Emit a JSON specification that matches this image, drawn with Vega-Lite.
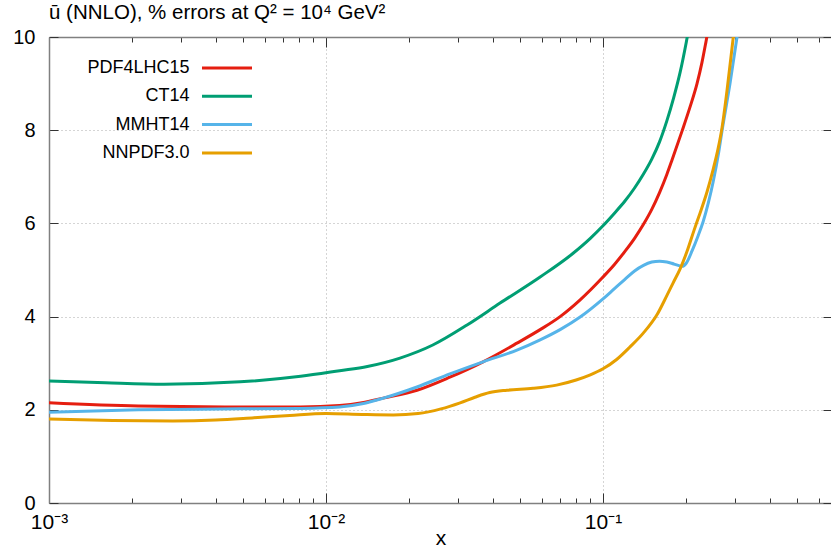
{
  "$schema": "https://vega.github.io/schema/vega-lite/v6.json",
  "autosize": "none",
  "padding": {"left": 49, "top": 37, "right": 0, "bottom": 46},
  "width": 783,
  "height": 466,
  "background": "white",
  "config": {"view": {"stroke": null}, "font": "Liberation Sans"},
  "title": {
    "text": "ū (NNLO), % errors at Q² = 10⁴ GeV²",
    "anchor": "start",
    "frame": "group",
    "font": "Liberation Sans",
    "fontSize": 20.5,
    "fontWeight": "normal",
    "baseline": "alphabetic",
    "offset": -12,
    "color": "black"
  },
  "data": {
    "values": [
      {"series": "PDF4LHC15", "x": 0.001, "y": 2.15},
      {"series": "PDF4LHC15", "x": 0.0021, "y": 2.08},
      {"series": "PDF4LHC15", "x": 0.0049, "y": 2.06},
      {"series": "PDF4LHC15", "x": 0.0081, "y": 2.06},
      {"series": "PDF4LHC15", "x": 0.0112, "y": 2.09},
      {"series": "PDF4LHC15", "x": 0.0135, "y": 2.15},
      {"series": "PDF4LHC15", "x": 0.0161, "y": 2.25},
      {"series": "PDF4LHC15", "x": 0.0213, "y": 2.42},
      {"series": "PDF4LHC15", "x": 0.028, "y": 2.70},
      {"series": "PDF4LHC15", "x": 0.0369, "y": 3.03},
      {"series": "PDF4LHC15", "x": 0.0489, "y": 3.43},
      {"series": "PDF4LHC15", "x": 0.0593, "y": 3.72},
      {"series": "PDF4LHC15", "x": 0.07, "y": 4.0},
      {"series": "PDF4LHC15", "x": 0.0827, "y": 4.36},
      {"series": "PDF4LHC15", "x": 0.1, "y": 4.85},
      {"series": "PDF4LHC15", "x": 0.11, "y": 5.12},
      {"series": "PDF4LHC15", "x": 0.12, "y": 5.40},
      {"series": "PDF4LHC15", "x": 0.13, "y": 5.68},
      {"series": "PDF4LHC15", "x": 0.14, "y": 5.98},
      {"series": "PDF4LHC15", "x": 0.15, "y": 6.30},
      {"series": "PDF4LHC15", "x": 0.16, "y": 6.66},
      {"series": "PDF4LHC15", "x": 0.17, "y": 7.05},
      {"series": "PDF4LHC15", "x": 0.1775, "y": 7.36},
      {"series": "PDF4LHC15", "x": 0.1929, "y": 7.98},
      {"series": "PDF4LHC15", "x": 0.2062, "y": 8.5},
      {"series": "PDF4LHC15", "x": 0.2185, "y": 9.0},
      {"series": "PDF4LHC15", "x": 0.2276, "y": 9.45},
      {"series": "PDF4LHC15", "x": 0.2354, "y": 9.9},
      {"series": "PDF4LHC15", "x": 0.2455, "y": 10.5},
      {"series": "CT14", "x": 0.001, "y": 2.62},
      {"series": "CT14", "x": 0.0016, "y": 2.58},
      {"series": "CT14", "x": 0.0026, "y": 2.55},
      {"series": "CT14", "x": 0.0049, "y": 2.60},
      {"series": "CT14", "x": 0.0081, "y": 2.72},
      {"series": "CT14", "x": 0.0112, "y": 2.84},
      {"series": "CT14", "x": 0.0141, "y": 2.93},
      {"series": "CT14", "x": 0.0185, "y": 3.11},
      {"series": "CT14", "x": 0.0243, "y": 3.39},
      {"series": "CT14", "x": 0.0323, "y": 3.82},
      {"series": "CT14", "x": 0.0425, "y": 4.29},
      {"series": "CT14", "x": 0.0593, "y": 4.85},
      {"series": "CT14", "x": 0.078, "y": 5.36},
      {"series": "CT14", "x": 0.09, "y": 5.68},
      {"series": "CT14", "x": 0.1, "y": 5.95},
      {"series": "CT14", "x": 0.11, "y": 6.22},
      {"series": "CT14", "x": 0.12, "y": 6.48},
      {"series": "CT14", "x": 0.13, "y": 6.76},
      {"series": "CT14", "x": 0.14, "y": 7.06},
      {"series": "CT14", "x": 0.15, "y": 7.38},
      {"series": "CT14", "x": 0.16, "y": 7.75},
      {"series": "CT14", "x": 0.17, "y": 8.2},
      {"series": "CT14", "x": 0.18, "y": 8.7},
      {"series": "CT14", "x": 0.19, "y": 9.25},
      {"series": "CT14", "x": 0.2, "y": 9.9},
      {"series": "CT14", "x": 0.21, "y": 10.6},
      {"series": "MMHT14", "x": 0.001, "y": 1.95},
      {"series": "MMHT14", "x": 0.0021, "y": 2.0},
      {"series": "MMHT14", "x": 0.0049, "y": 2.02},
      {"series": "MMHT14", "x": 0.0081, "y": 2.03},
      {"series": "MMHT14", "x": 0.0112, "y": 2.06},
      {"series": "MMHT14", "x": 0.0135, "y": 2.13},
      {"series": "MMHT14", "x": 0.0161, "y": 2.25},
      {"series": "MMHT14", "x": 0.0213, "y": 2.49},
      {"series": "MMHT14", "x": 0.028, "y": 2.77},
      {"series": "MMHT14", "x": 0.0369, "y": 3.03},
      {"series": "MMHT14", "x": 0.0489, "y": 3.28},
      {"series": "MMHT14", "x": 0.0593, "y": 3.50},
      {"series": "MMHT14", "x": 0.07, "y": 3.72},
      {"series": "MMHT14", "x": 0.0827, "y": 3.99},
      {"series": "MMHT14", "x": 0.1, "y": 4.38},
      {"series": "MMHT14", "x": 0.11, "y": 4.60},
      {"series": "MMHT14", "x": 0.12, "y": 4.80},
      {"series": "MMHT14", "x": 0.13, "y": 4.98},
      {"series": "MMHT14", "x": 0.14, "y": 5.10},
      {"series": "MMHT14", "x": 0.15, "y": 5.17},
      {"series": "MMHT14", "x": 0.16, "y": 5.19},
      {"series": "MMHT14", "x": 0.17, "y": 5.17},
      {"series": "MMHT14", "x": 0.18, "y": 5.13},
      {"series": "MMHT14", "x": 0.193, "y": 5.08},
      {"series": "MMHT14", "x": 0.2, "y": 5.15},
      {"series": "MMHT14", "x": 0.21, "y": 5.42},
      {"series": "MMHT14", "x": 0.22, "y": 5.72},
      {"series": "MMHT14", "x": 0.23, "y": 6.04},
      {"series": "MMHT14", "x": 0.24, "y": 6.44},
      {"series": "MMHT14", "x": 0.25, "y": 6.9},
      {"series": "MMHT14", "x": 0.262, "y": 7.55},
      {"series": "MMHT14", "x": 0.2689, "y": 7.98},
      {"series": "MMHT14", "x": 0.2874, "y": 9.0},
      {"series": "MMHT14", "x": 0.3047, "y": 10.0},
      {"series": "MMHT14", "x": 0.318, "y": 10.8},
      {"series": "NNPDF3.0", "x": 0.001, "y": 1.80},
      {"series": "NNPDF3.0", "x": 0.0017, "y": 1.77},
      {"series": "NNPDF3.0", "x": 0.0028, "y": 1.76},
      {"series": "NNPDF3.0", "x": 0.004, "y": 1.78},
      {"series": "NNPDF3.0", "x": 0.0055, "y": 1.83},
      {"series": "NNPDF3.0", "x": 0.0074, "y": 1.88},
      {"series": "NNPDF3.0", "x": 0.01, "y": 1.92},
      {"series": "NNPDF3.0", "x": 0.0135, "y": 1.90},
      {"series": "NNPDF3.0", "x": 0.0175, "y": 1.89},
      {"series": "NNPDF3.0", "x": 0.0215, "y": 1.92},
      {"series": "NNPDF3.0", "x": 0.026, "y": 2.02},
      {"series": "NNPDF3.0", "x": 0.0305, "y": 2.15},
      {"series": "NNPDF3.0", "x": 0.0345, "y": 2.27},
      {"series": "NNPDF3.0", "x": 0.039, "y": 2.37},
      {"series": "NNPDF3.0", "x": 0.045, "y": 2.42},
      {"series": "NNPDF3.0", "x": 0.0559, "y": 2.46},
      {"series": "NNPDF3.0", "x": 0.068, "y": 2.53},
      {"series": "NNPDF3.0", "x": 0.08, "y": 2.64},
      {"series": "NNPDF3.0", "x": 0.09, "y": 2.75},
      {"series": "NNPDF3.0", "x": 0.1, "y": 2.88},
      {"series": "NNPDF3.0", "x": 0.112, "y": 3.08},
      {"series": "NNPDF3.0", "x": 0.1252, "y": 3.35},
      {"series": "NNPDF3.0", "x": 0.14, "y": 3.65},
      {"series": "NNPDF3.0", "x": 0.157, "y": 4.05},
      {"series": "NNPDF3.0", "x": 0.17, "y": 4.45},
      {"series": "NNPDF3.0", "x": 0.179, "y": 4.72},
      {"series": "NNPDF3.0", "x": 0.1897, "y": 5.02},
      {"series": "NNPDF3.0", "x": 0.2011, "y": 5.40},
      {"series": "NNPDF3.0", "x": 0.2131, "y": 5.85},
      {"series": "NNPDF3.0", "x": 0.224, "y": 6.22},
      {"series": "NNPDF3.0", "x": 0.2375, "y": 6.68},
      {"series": "NNPDF3.0", "x": 0.2496, "y": 7.15},
      {"series": "NNPDF3.0", "x": 0.2602, "y": 7.6},
      {"series": "NNPDF3.0", "x": 0.2689, "y": 8.05},
      {"series": "NNPDF3.0", "x": 0.2803, "y": 8.85},
      {"series": "NNPDF3.0", "x": 0.2947, "y": 9.95},
      {"series": "NNPDF3.0", "x": 0.308, "y": 10.9}
    ]
  },
  "resolve": {"axis": {"x": "independent", "y": "independent"}},
  "layer": [
    {
      "mark": {"type": "line", "clip": true, "strokeWidth": 3, "interpolate": "monotone"},
      "encoding": {
        "x": {
          "field": "x", "type": "quantitative",
          "scale": {"type": "log", "domain": [0.001, 0.671], "nice": false},
          "axis": {
            "orient": "bottom",
            "title": "x",
            "titleFont": "Liberation Sans",
            "titleFontSize": 21,
            "titleFontWeight": "normal",
            "titleColor": "black",
            "titlePadding": -10,
            "values": [0.001, 0.002, 0.003, 0.004, 0.005, 0.006, 0.007, 0.008, 0.009, 0.01, 0.02, 0.03, 0.04, 0.05, 0.06, 0.07, 0.08, 0.09, 0.1, 0.2, 0.3, 0.4, 0.5, 0.6],
            "labelExpr": "datum.value == 0.001 ? '10⁻³' : datum.value == 0.01 ? '10⁻²' : datum.value == 0.1 ? '10⁻¹' : ''",
            "labelOverlap": false,
            "labelFlush": false,
            "labelFont": "Liberation Sans",
            "labelFontSize": 21,
            "labelColor": "black",
            "labelPadding": 18,
            "tickSize": {"condition": {"test": "datum.value == 0.001 || datum.value == 0.01 || datum.value == 0.1", "value": -10}, "value": -5},
            "tickColor": "#333",
            "tickWidth": 1,
            "domainColor": "#808080",
            "domainWidth": 1.5,
            "grid": true,
            "gridDash": [1, 3],
            "gridColor": "#aaaaaa",
            "gridOpacity": {"condition": {"test": "datum.value == 0.01 || datum.value == 0.1", "value": 1}, "value": 0}
          }
        },
        "y": {
          "field": "y", "type": "quantitative",
          "scale": {"domain": [0, 10], "nice": false},
          "axis": {
            "orient": "left",
            "title": null,
            "values": [0, 2, 4, 6, 8, 10],
            "labelFont": "Liberation Sans",
            "labelFontSize": 20,
            "labelColor": "black",
            "labelFlush": false,
            "labelPadding": 23,
            "tickSize": -9,
            "tickColor": "#333",
            "domainColor": "#808080",
            "domainWidth": 1.5,
            "grid": true,
            "gridDash": [1, 3],
            "gridColor": "#aaaaaa",
            "gridOpacity": {"condition": {"test": "datum.value == 0 || datum.value == 10", "value": 0}, "value": 1}
          }
        },
        "color": {
          "field": "series", "type": "nominal",
          "scale": {"domain": ["PDF4LHC15", "CT14", "MMHT14", "NNPDF3.0"], "range": ["#e51e10", "#009e73", "#56b4e9", "#e69f00"]},
          "legend": {
            "orient": "none",
            "legendX": 0,
            "legendY": 22,
            "title": null,
            "padding": 0,
            "symbolType": "M-5,0H5",
            "symbolSize": 100,
            "symbolStrokeWidth": 3,
            "symbolFillColor": "transparent",
            "symbolOffset": 169,
            "labelOffset": -46.5,
            "labelAlign": "right",
            "labelFont": "Liberation Sans",
            "labelFontSize": 18,
            "labelColor": "black",
            "rowPadding": 10.3
          }
        }
      }
    },
    {
      "mark": {"type": "point", "opacity": 0, "size": 0, "clip": true},
      "encoding": {
        "x": {
          "field": "x", "type": "quantitative",
          "axis": {
            "orient": "top",
            "title": null,
            "labels": false,
            "grid": false,
            "values": [0.001, 0.002, 0.003, 0.004, 0.005, 0.006, 0.007, 0.008, 0.009, 0.01, 0.02, 0.03, 0.04, 0.05, 0.06, 0.07, 0.08, 0.09, 0.1, 0.2, 0.3, 0.4, 0.5, 0.6],
            "tickSize": {"condition": {"test": "datum.value == 0.001 || datum.value == 0.01 || datum.value == 0.1", "value": -10}, "value": -5},
            "tickColor": "#333",
            "domainColor": "#808080",
            "domainWidth": 1.5
          }
        },
        "y": {
          "field": "y", "type": "quantitative",
          "axis": {
            "orient": "right",
            "title": null,
            "labels": false,
            "grid": false,
            "values": [0, 2, 4, 6, 8, 10],
            "tickSize": -9,
            "tickColor": "#333",
            "domainColor": "#808080",
            "domainWidth": 1.5
          }
        }
      }
    }
  ]
}
